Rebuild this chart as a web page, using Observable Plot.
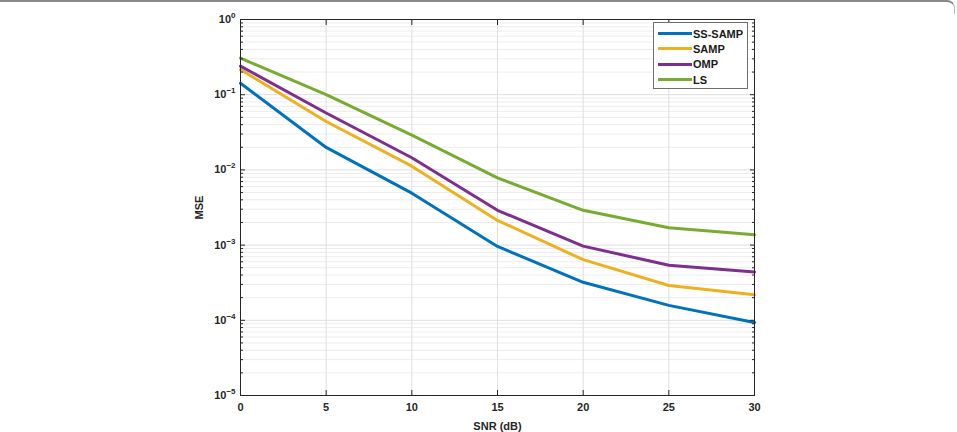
<!DOCTYPE html>
<html>
<head>
<meta charset="utf-8">
<script src="https://cdn.jsdelivr.net/npm/d3@7"></script>
<script src="https://cdn.jsdelivr.net/npm/@observablehq/plot@0.6"></script>
<style>
  html, body { margin: 0; padding: 0; background: #fff; }
  #wrap { position: relative; width: 957px; height: 432px; overflow: hidden; font-family: "Liberation Sans", Arial, sans-serif; }
  #topline { position: absolute; left: 0; top: 0; width: 955px; height: 14px; border-top: 2px solid #8a8a8a; border-right: 1px solid #bbb; border-top-right-radius: 8px; box-sizing: border-box; }
  #legend { position: absolute; left: 653px; top: 22px; width: 95px; height: 67px; box-sizing: border-box; border: 1px solid #6e6e6e; background: #fff; padding-top: 3px; }
  .item { display: flex; align-items: center; height: 15.3px; font-weight: bold; font-size: 11px; color: #1a1a1a; }
  .sw { width: 34px; height: 3px; margin-left: 4px; margin-right: 1px; }
</style>
</head>
<body>
<div id="wrap">
  <div id="topline"></div>
  <div id="chart"></div>
  <div id="legend"></div>
</div>
<script>
const snr = [0, 5, 10, 15, 20, 25, 30];
const seriesNames = ["SS-SAMP", "SAMP", "OMP", "LS"];
const seriesColors = ["#0072BD", "#EDB120", "#7E2F8E", "#77AC30"];
const ssSamp = [0.142, 0.0199, 0.0049, 0.00096, 0.00032, 0.000158, 0.0000937];
const samp   = [0.216, 0.044, 0.0112, 0.00213, 0.00064, 0.00029, 0.000218];
const omp    = [0.24, 0.057, 0.0145, 0.0029, 0.00097, 0.00054, 0.00044];
const ls     = [0.306, 0.10, 0.029, 0.00785, 0.0029, 0.0017, 0.00137];
const xTicks = [0, 5, 10, 15, 20, 25, 30];
const yMajor = [1e-5, 1e-4, 1e-3, 1e-2, 1e-1, 1];
const yMinor = [];
for (let e = -5; e < 0; e++) for (let m = 2; m <= 9; m++) yMinor.push(m * Math.pow(10, e));

const fmtPow = d => "10^" + Math.round(Math.log10(d));
const noText = () => "";

const allSeries = [ssSamp, samp, omp, ls];
const data = [];
allSeries.forEach((vals, i) => vals.forEach((v, j) => data.push({snr: snr[j], mse: v, series: seriesNames[i]})));

const axisColor = "#262626";
const chart = Plot.plot({
  width: 957,
  height: 432,
  marginLeft: 240,
  marginRight: 203,
  marginTop: 19,
  marginBottom: 37,
  style: {fontFamily: "'Liberation Sans', Arial, sans-serif", fontSize: "11px", fontWeight: "bold", color: axisColor, background: "transparent"},
  x: {domain: [0, 30]},
  y: {type: "log", domain: [1e-5, 1]},
  color: {domain: seriesNames, range: seriesColors},
  marks: [
    Plot.ruleY(yMinor, {stroke: "#ececec", strokeWidth: 1}),
    Plot.ruleY(yMajor, {stroke: "#dedede", strokeWidth: 1}),
    Plot.ruleX(xTicks, {stroke: "#dedede", strokeWidth: 1}),
    Plot.line(data, {x: "snr", y: "mse", z: "series", stroke: "series", strokeWidth: 3, strokeLinejoin: "round"}),
    Plot.frame({stroke: axisColor, strokeWidth: 1}),
    // inward tick marks
    Plot.axisY({anchor: "left", ticks: yMajor, tickSize: -5, tickFormat: noText, label: null, stroke: axisColor}),
    Plot.axisY({anchor: "left", ticks: yMinor, tickSize: -3, tickFormat: noText, label: null, stroke: axisColor}),
    Plot.axisY({anchor: "right", ticks: yMajor, tickSize: -5, tickFormat: noText, label: null, stroke: axisColor}),
    Plot.axisY({anchor: "right", ticks: yMinor, tickSize: -3, tickFormat: noText, label: null, stroke: axisColor}),
    Plot.axisX({anchor: "bottom", ticks: xTicks, tickSize: -5, tickFormat: noText, label: null, stroke: axisColor}),
    Plot.axisX({anchor: "top", ticks: xTicks, tickSize: -5, tickFormat: noText, label: null, stroke: axisColor}),
    // labels
    Plot.axisY({anchor: "left", ticks: yMajor, tickSize: 0, tickPadding: 5, tickFormat: fmtPow, label: "MSE", labelAnchor: "center", labelOffset: 45, labelArrow: "none", fill: axisColor, fontSize: 11}),
    Plot.axisX({anchor: "bottom", ticks: xTicks, tickSize: 0, tickPadding: 8, tickFormat: d => String(d), label: "SNR (dB)", labelAnchor: "center", labelOffset: 34, labelArrow: "none", fill: axisColor, fontSize: 11})
  ]
});
document.getElementById("chart").appendChild(chart);

// turn "10^k" labels into base + raised exponent
chart.querySelectorAll("text").forEach(t => {
  const s = t.textContent;
  const m = /^10\^(-?\d+)$/.exec(s);
  if (!m) return;
  while (t.firstChild) t.removeChild(t.firstChild);
  const ns = "http://www.w3.org/2000/svg";
  const base = document.createElementNS(ns, "tspan");
  base.textContent = "10";
  const exp = document.createElementNS(ns, "tspan");
  exp.textContent = m[1].replace("-", "\u2212");
  exp.setAttribute("dy", "-5");
  exp.setAttribute("font-size", "8");
  t.appendChild(base);
  t.appendChild(exp);
});

const legend = document.getElementById("legend");
seriesNames.forEach((name, i) => {
  const item = document.createElement("div");
  item.className = "item";
  const sw = document.createElement("div");
  sw.className = "sw";
  sw.style.background = seriesColors[i];
  const t = document.createElement("span");
  t.textContent = name;
  item.appendChild(sw);
  item.appendChild(t);
  legend.appendChild(item);
});
</script>
</body>
</html>
